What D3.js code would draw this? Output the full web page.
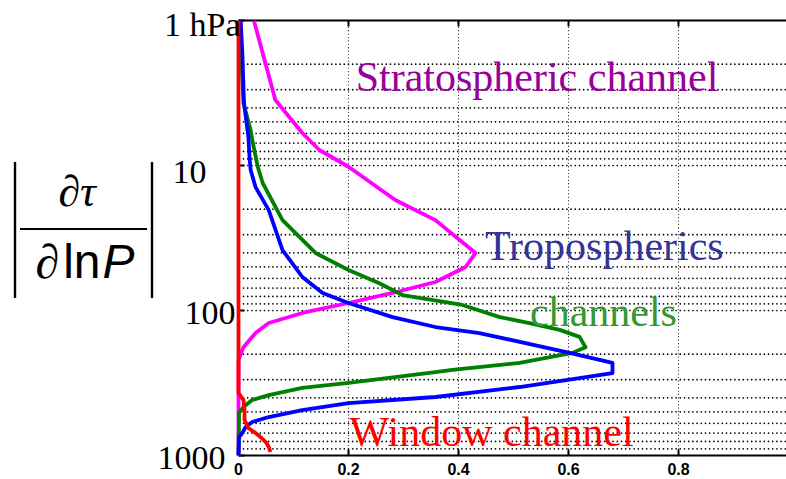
<!DOCTYPE html>
<html><head><meta charset="utf-8">
<script src="https://cdn.jsdelivr.net/npm/d3@7"></script>
<style>body{margin:0;background:#fff} svg{display:block}</style>
</head><body>
<svg id="c" width="786" height="479"></svg>
<script>
// ---- data (pressure hPa, |dtau/dlnP|) ----
const xTicks = [0, 0.2, 0.4, 0.6, 0.8];
const xTickLabels = ["0", "0.2", "0.4", "0.6", "0.8"];
const pTicks = [1, 10, 100, 1000];
const pTickLabels = ["1 hPa", "10", "100", "1000"];

const stratospheric = [
  [1,0.028],[3.53,0.067],[5.97,0.116],[7.82,0.147],[10.2,0.2],[17.3,0.285],
  [23.8,0.358],[40.1,0.431],[50.1,0.413],[63.6,0.358],[75.7,0.28],[88.8,0.2],
  [104,0.116],[122,0.055],[143,0.031],[179,0.009],[219,0],[1000,0]
];
const troposphericA = [ // green
  [1,0.002],[3.71,0.009],[5.69,0.022],[6.67,0.025],[10.2,0.035],[13.2,0.044],
  [23.8,0.08],[40.1,0.14],[52.6,0.2],[64.6,0.255],[78.2,0.298],[91.6,0.407],
  [111,0.475],[122,0.529],[136,0.584],[152,0.62],[179,0.631],[196,0.607],
  [230,0.511],[257,0.389],[266,0.358],[316,0.2],[342,0.116],[383,0.055],
  [414,0.025],[463,0.009],[509,0.001],[1000,0]
];
const troposphericB = [ // blue
  [1,0.004],[1.68,0.007],[3.71,0.01],[6.36,0.018],[8.74,0.02],[10.7,0.022],
  [14.1,0.031],[20.3,0.055],[38.3,0.08],[58.7,0.116],[75.7,0.153],[88.8,0.2],
  [111,0.28],[130,0.358],[143,0.438],[196,0.602],[230,0.68],[270,0.68],
  [337,0.511],[395,0.358],[435,0.2],[486,0.116],[543,0.055],[587,0.025],
  [636,0.013],[700,0.007],[745,0.001],[1000,0]
];
const windowCh = [
  [1,0],[371,0],[414,0.009],[486,0.011],[569,0.011],[646,0.018],[700,0.031],
  [757,0.042],[820,0.051],[874,0.055],[946,0.058]
];
const seriesColors = ["#ff00ff", "#008000", "#0000ff", "#ff0000"];
const annotations = [
  {text:"Stratospheric channel", v:0.213, p:3.05, color:"#990099"},
  {text:"Tropospherics", v:0.448, p:45, color:"#333399"},
  {text:"channels", v:0.53, p:127, color:"#339933"},
  {text:"Window channel", v:0.202, p:860, color:"#ff0000"}
];

// ---- drawing ----
const svg = d3.select("#c");
const x = d3.scaleLinear().domain([0, 1]).range([238.5, 788.5]);
const y = d3.scaleLog().domain([1, 1000]).range([20.5, 455.5]);

svg.append("defs").append("clipPath").attr("id","clip")
  .append("rect").attr("x",x(0)-3).attr("y",y(1)).attr("width",x(1)-x(0)+3).attr("height",y(1000)-y(1));

// grid
const gridP = y.ticks().filter(p => p > 1 && p < 1000);
svg.append("g").selectAll("line").data(gridP).join("line")
  .attr("x1", x(0)+5).attr("x2", x(1)).attr("y1", d=>y(d)).attr("y2", d=>y(d))
  .attr("stroke","#000").attr("stroke-width",1.7).attr("stroke-linecap","round")
  .attr("stroke-dasharray","0 4.2");
svg.append("g").selectAll("line").data([0.2,0.4,0.6,0.8,1.0]).join("line")
  .attr("x1", d=>x(d)).attr("x2", d=>x(d)).attr("y1", y(1)).attr("y2", y(1000))
  .attr("stroke","#222").attr("stroke-width",1.2).attr("stroke-linecap","round")
  .attr("stroke-dasharray","0 3.4");

// axes frame
svg.append("line").attr("x1",x(0)).attr("x2",x(1)).attr("y1",y(1)).attr("y2",y(1))
  .attr("stroke","#000").attr("stroke-width",2.2);
svg.append("line").attr("x1",x(0)).attr("x2",x(1)).attr("y1",y(1000)).attr("y2",y(1000))
  .attr("stroke","#000").attr("stroke-width",2.2);
svg.append("line").attr("x1",x(0)).attr("x2",x(0)).attr("y1",y(1)).attr("y2",y(1000))
  .attr("stroke","#000").attr("stroke-width",1.5);
// x ticks top and bottom
const tk = svg.append("g");
xTicks.forEach(v => {
  tk.append("line").attr("x1",x(v)).attr("x2",x(v)).attr("y1",y(1)).attr("y2",y(1)+6)
    .attr("stroke","#000").attr("stroke-width",2);
  tk.append("line").attr("x1",x(v)).attr("x2",x(v)).attr("y1",y(1000)).attr("y2",y(1000)-6)
    .attr("stroke","#000").attr("stroke-width",2);
});
pTicks.forEach(p => {
  tk.append("line").attr("x1",x(0)).attr("x2",x(0)+6).attr("y1",y(p)).attr("y2",y(p))
    .attr("stroke","#000").attr("stroke-width",2);
});

// curves
const line = d3.line().x(d=>x(d[1])).y(d=>y(d[0])).curve(d3.curveLinear);
const cg = svg.append("g").attr("clip-path","url(#clip)");
[stratospheric, troposphericA, troposphericB, windowCh].forEach((s,i) => {
  cg.append("path").attr("d", line(s)).attr("fill","none")
    .attr("stroke", seriesColors[i]).attr("stroke-width",3.8)
    .attr("stroke-linejoin","round").attr("stroke-linecap","butt");
});

// x tick labels
svg.append("g").selectAll("text").data(xTicks).join("text")
  .attr("x", d=>x(d)).attr("y", 475).attr("text-anchor","middle")
  .attr("font-family","Liberation Sans, Arial, sans-serif").attr("font-weight","bold")
  .attr("font-size",16).text((d,i)=>xTickLabels[i]);

// y tick labels
const yLabelShift = {"1 hPa":[2,15], "10":[-32,17], "100":[-3,13], "1000":[-13,13]};
svg.append("g").selectAll("text").data(pTicks).join("text")
  .attr("x", (d,i)=>x(0)+yLabelShift[pTickLabels[i]][0])
  .attr("y", (d,i)=>y(d)+yLabelShift[pTickLabels[i]][1])
  .attr("text-anchor","end")
  .attr("font-family","Liberation Serif, Times New Roman, serif")
  .attr("font-size",34).text((d,i)=>pTickLabels[i]);

// annotations
svg.append("g").selectAll("text").data(annotations).join("text")
  .attr("x", d=>x(d.v)).attr("y", d=>y(d.p))
  .attr("font-family","Liberation Serif, Times New Roman, serif")
  .attr("font-size",42).attr("fill", d=>d.color).text(d=>d.text);

// y-axis math label |dtau / d ln P|
const ml = svg.append("g");
ml.append("line").attr("x1",15).attr("x2",15).attr("y1",162).attr("y2",298).attr("stroke","#000").attr("stroke-width",2.4);
ml.append("line").attr("x1",152).attr("x2",152).attr("y1",162).attr("y2",298).attr("stroke","#000").attr("stroke-width",2.4);
ml.append("line").attr("x1",20).attr("x2",147).attr("y1",229).attr("y2",229).attr("stroke","#000").attr("stroke-width",2.2);
const num = ml.append("text").attr("x",77).attr("y",206).attr("text-anchor","middle")
  .attr("font-family","Liberation Serif, Times New Roman, serif").attr("font-size",44);
num.append("tspan").text("\u2202");
num.append("tspan").attr("font-style","italic").text("\u03C4");
const den = ml.append("text").attr("x",85).attr("y",278).attr("text-anchor","middle").attr("font-size",48);
den.append("tspan").attr("font-family","Liberation Serif, Times New Roman, serif").text("\u2202");
den.append("tspan").attr("font-family","Liberation Sans, Arial, sans-serif").attr("dx",4).text("ln");
den.append("tspan").attr("font-family","Liberation Sans, Arial, sans-serif").attr("font-style","italic").attr("dx",2).text("P");
</script>
</body></html>
